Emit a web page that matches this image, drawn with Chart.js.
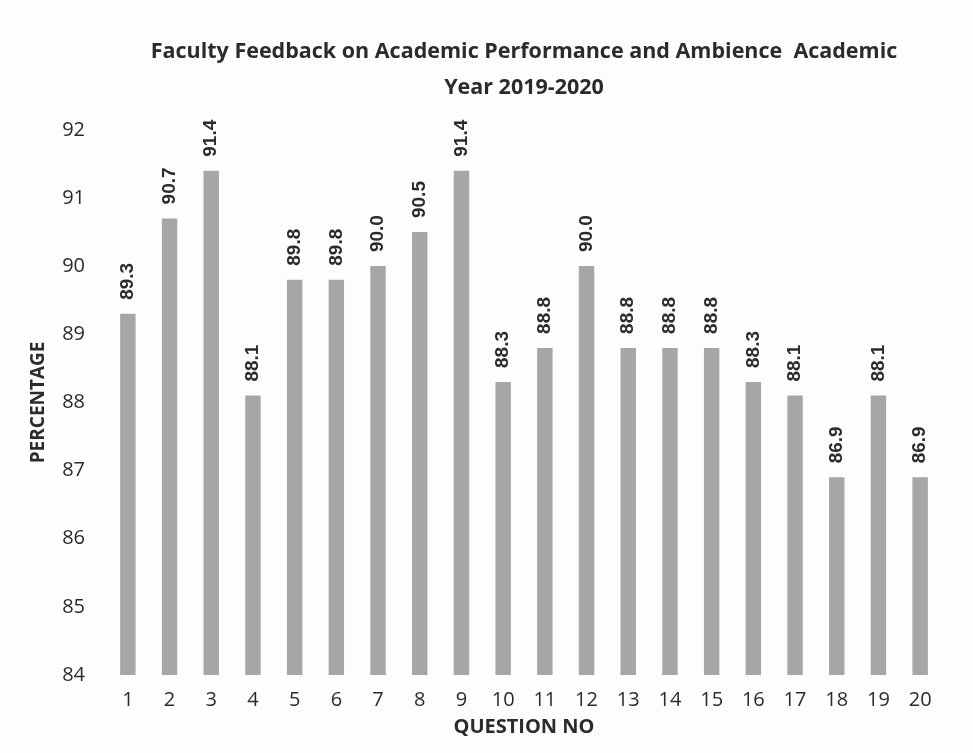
<!DOCTYPE html>
<html>
<head>
<meta charset="utf-8">
<title>Faculty Feedback</title>
<script src="https://cdn.jsdelivr.net/npm/chart.js@4.4.1/dist/chart.umd.min.js"></script>
<style>
  html, body { margin: 0; padding: 0; background: #fdfdfd; }
  #wrap { width: 973px; height: 753px; }
</style>
</head>
<body>
<div id="wrap"><canvas id="chart" width="973" height="753"></canvas></div>
<script>
// question numbers on the x axis
const questions = ['1', '2', '3', '4', '5', '6', '7', '8', '9', '10',
  '11', '12', '13', '14', '15', '16', '17', '18', '19', '20'];
// percentage per question
const percentages = [89.3, 90.7, 91.4, 88.1, 89.8, 89.8, 90.0, 90.5, 91.4, 88.3,
  88.8, 90.0, 88.8, 88.8, 88.8, 88.3, 88.1, 86.9, 88.1, 86.9];
const titleLines = ['Faculty Feedback on Academic Performance and Ambience  Academic', 'Year 2019-2020'];
const yMin = 84;
const yMax = 92;

const textColor = '#2b2b2b';
const fontFamily = '"Open Sans", sans-serif';

// draws the value above each bar, rotated like the original
const valueLabels = {
  id: 'valueLabels',
  afterDatasetsDraw(chart) {
    const ctx = chart.ctx;
    const meta = chart.getDatasetMeta(0);
    ctx.save();
    ctx.font = 'bold 19px "Liberation Sans", Arial, sans-serif';
    ctx.fillStyle = textColor;
    ctx.textAlign = 'left';
    ctx.textBaseline = 'middle';
    meta.data.forEach((bar, i) => {
      ctx.save();
      ctx.translate(bar.x, bar.y - 14);
      ctx.rotate(-Math.PI / 2);
      ctx.fillText(percentages[i].toFixed(1), 0, 0);
      ctx.restore();
    });
    ctx.restore();
  }
};

const chart = new Chart(document.getElementById('chart'), {
  type: 'bar',
  data: {
    labels: questions,
    datasets: [{
      label: 'Percentage',
      data: percentages,
      backgroundColor: '#a6a6a6',
      borderWidth: 0,
      barPercentage: 0.37,
      categoryPercentage: 1
    }]
  },
  options: {
    responsive: false,
    animation: false,
    layout: { padding: { top: 0, right: 32, bottom: 0, left: 0 } },
    plugins: {
      legend: { display: false },
      tooltip: { enabled: false },
      title: {
        display: true,
        fullSize: false,
        text: titleLines,
        color: textColor,
        font: { family: fontFamily, size: 21.5, weight: 'bold', lineHeight: 1.67 },
        padding: { top: 34, bottom: 24 }
      }
    },
    scales: {
      x: {
        grid: { display: false, drawTicks: false },
        border: { display: false },
        ticks: {
          color: textColor,
          padding: 13,
          font: { family: fontFamily, size: 20 }
        },
        title: {
          display: true,
          text: 'QUESTION NO',
          color: textColor,
          font: { family: fontFamily, size: 20, weight: 'bold' },
          padding: { top: 0, bottom: 14 }
        },
        afterFit(scale) { scale.height = 753 - 675; }
      },
      y: {
        min: yMin,
        max: yMax,
        grid: { display: false, drawTicks: false },
        border: { display: false },
        ticks: {
          stepSize: 1,
          color: textColor,
          padding: 22,
          font: { family: fontFamily, size: 20 }
        },
        title: {
          display: true,
          text: 'PERCENTAGE',
          color: textColor,
          font: { family: fontFamily, size: 19, weight: 'bold' },
          padding: { top: 27, bottom: 0 }
        },
        afterFit(scale) { scale.width = 107; }
      }
    }
  },
  plugins: [valueLabels]
});
</script>
</body>
</html>
